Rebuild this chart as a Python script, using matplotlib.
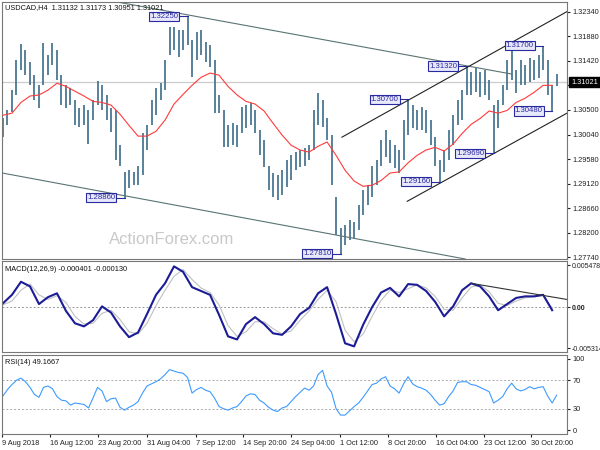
import numpy as np
import matplotlib
matplotlib.use("Agg")
import matplotlib.pyplot as plt

plt.rcParams['font.family'] = ['Liberation Sans', 'DejaVu Sans']

# price bars (every 3 H4 bars), high / low
high = [1.3034, 1.3049, 1.3087, 1.3143, 1.3173, 1.3162, 1.3139, 1.3115, 1.3096, 1.3175,
        1.3152, 1.3175, 1.3162, 1.3115, 1.3096, 1.3091, 1.3068, 1.3053, 1.3059, 1.3049,
        1.3068, 1.3104, 1.3096, 1.3078, 1.3053, 1.3049, 1.2984, 1.2933, 1.2937, 1.2933,
        1.2946, 1.3006, 1.3021, 1.3068, 1.3091, 1.3100, 1.3143, 1.3205, 1.3205, 1.3199,
        1.3199, 1.3225, 1.3180, 1.3195, 1.3199, 1.3177, 1.3171, 1.3143, 1.3078, 1.3049,
        1.3021, 1.3025, 1.3021, 1.3055, 1.3059, 1.3063, 1.3049, 1.3012, 1.2993, 1.2946,
        1.2932, 1.2928, 1.2937, 1.2956, 1.2965, 1.2971, 1.2975, 1.2978, 1.2984, 1.3049,
        1.3081, 1.3068, 1.3034, 1.3003, 1.2887, 1.2829, 1.2834, 1.2844, 1.2840, 1.2872,
        1.2900, 1.2909, 1.2946, 1.2956, 1.2993, 1.3012, 1.2993, 1.2984, 1.2975, 1.3031,
        1.3070, 1.3059, 1.3049, 1.3055, 1.3049, 1.3031, 1.2999, 1.2956, 1.2975, 1.3012,
        1.3040, 1.3068, 1.3087, 1.3132, 1.3121, 1.3128, 1.3121, 1.3124, 1.3106, 1.3059,
        1.3068, 1.3096, 1.3143, 1.3162, 1.3124, 1.3143, 1.3134, 1.3147, 1.3143, 1.3152,
        1.3170, 1.3143, 1.3096, 1.3117]
low = [1.2999, 1.3021, 1.3046, 1.3078, 1.3124, 1.3115, 1.3096, 1.3068, 1.3053, 1.3096,
       1.3115, 1.3134, 1.3106, 1.3059, 1.3053, 1.3059, 1.3021, 1.3018, 1.3021, 1.2986,
       1.3031, 1.3059, 1.3049, 1.3031, 1.3008, 1.2956, 1.2946, 1.2886, 1.2904, 1.2909,
       1.2909, 1.2928, 1.2975, 1.3021, 1.3040, 1.3068, 1.3087, 1.3152, 1.3162, 1.3149,
       1.3162, 1.3171, 1.3111, 1.3143, 1.3152, 1.3139, 1.3130, 1.3044, 1.3044, 1.2980,
       1.2980, 1.2984, 1.2980, 1.3006, 1.3016, 1.3021, 1.3006, 1.2965, 1.2943, 1.2900,
       1.2887, 1.2881, 1.2890, 1.2905, 1.2918, 1.2937, 1.2943, 1.2946, 1.2956, 1.2975,
       1.3021, 1.3018, 1.2993, 1.2909, 1.2816, 1.2781, 1.2797, 1.2806, 1.2810, 1.2825,
       1.2853, 1.2872, 1.2887, 1.2909, 1.2946, 1.2962, 1.2950, 1.2941, 1.2932, 1.2956,
       1.3003, 1.3016, 1.3012, 1.3012, 1.3006, 1.2984, 1.2946, 1.2916, 1.2934, 1.2956,
       1.2984, 1.3021, 1.3031, 1.3078, 1.3078, 1.3083, 1.3074, 1.3078, 1.3068, 1.2969,
       1.3016, 1.3059, 1.3087, 1.3106, 1.3081, 1.3096, 1.3096, 1.3102, 1.3106, 1.3109,
       1.3124, 1.3078, 1.3048, 1.3094]

# moving average, MACD and signal (every 6 H4 bars)
ma = [1.3040, 1.3044, 1.3064, 1.3076, 1.3078, 1.3087, 1.3100, 1.3094, 1.3085, 1.3076,
      1.3066, 1.3064, 1.3059, 1.3042, 1.3021, 1.3001, 1.3001, 1.3010, 1.3031, 1.3061,
      1.3079, 1.3096, 1.3111, 1.3119, 1.3115, 1.3094, 1.3078, 1.3066, 1.3061, 1.3048,
      1.3025, 1.3003, 1.2984, 1.2975, 1.2971, 1.2982, 1.2990, 1.2965, 1.2937, 1.2917,
      1.2907, 1.2909, 1.2918, 1.2932, 1.2934, 1.2951, 1.2965, 1.2975, 1.2980, 1.2973,
      1.2986, 1.3006, 1.3023, 1.3034, 1.3048, 1.3044, 1.3049, 1.3064, 1.3072, 1.3083,
      1.3096, 1.3096]
macd = [0.0005, 0.0016, 0.0033, 0.0027, 0.0004, 0.0013, 0.0018, -0.0005, -0.0021, -0.0025,
        -0.0017, 0.0001, -0.0007, -0.0025, -0.0039, -0.0033, -0.0009, 0.0016, 0.0031, 0.0053,
        0.0046, 0.0026, 0.0021, 0.0016, -0.0010, -0.0038, -0.0042, -0.0022, -0.0013, -0.0022,
        -0.0034, -0.0036, -0.0025, -0.0009, -0.0001, 0.0018, 0.0026, -0.0009, -0.0047, -0.0051,
        -0.0023, 0.0000, 0.0019, 0.0025, 0.0014, 0.0030, 0.0029, 0.0021, 0.0007, -0.0012,
        0.0001, 0.0022, 0.0031, 0.0027, 0.0014, -0.0004, 0.0004, 0.0012, 0.0014, 0.0014,
        0.0016, -0.0004]
signal = [0.0003, 0.0008, 0.0022, 0.0030, 0.0016, 0.0010, 0.0015, 0.0006, -0.0012, -0.0022,
          -0.0021, -0.0008, -0.0004, -0.0016, -0.0032, -0.0035, -0.0021, 0.0002, 0.0022, 0.0040,
          0.0049, 0.0036, 0.0025, 0.0019, 0.0003, -0.0024, -0.0038, -0.0032, -0.0019, -0.0019,
          -0.0028, -0.0035, -0.0031, -0.0017, -0.0005, 0.0010, 0.0022, 0.0007, -0.0030, -0.0045,
          -0.0035, -0.0012, 0.0009, 0.0022, 0.0019, 0.0024, 0.0029, 0.0025, 0.0014, -0.0003,
          -0.0004, 0.0012, 0.0026, 0.0029, 0.0020, 0.0005, 0.0002, 0.0008, 0.0012, 0.0014,
          0.0015, -0.0001]

# RSI(14) (every 3 H4 bars)
rsi = [48, 57, 64, 70, 73, 68, 60, 50, 46, 60, 62, 58, 47, 42, 41, 35, 38, 37, 36, 31,
       45, 60, 55, 40, 44, 45, 32, 28, 32, 35, 40, 52, 62, 65, 68, 72, 78, 85, 83, 81,
       80, 74, 52, 57, 60, 56, 54, 45, 33, 30, 28, 31, 33, 40, 48, 51, 50, 42, 38, 32,
       28, 26, 31, 33, 40, 47, 53, 59, 56, 62, 78, 84, 62, 53, 30, 21, 21, 27, 33, 38,
       46, 55, 64, 66, 72, 75, 62, 58, 52, 65, 75, 65, 61, 59, 56, 50, 42, 35, 37, 47,
       55, 67, 68, 68, 64, 63, 60, 57, 54, 38, 42, 47, 58, 66, 58, 55, 57, 61, 58, 60,
       61, 48, 38, 49]

price_ticks = [1.32340, 1.31880, 1.31420, 1.30960, 1.30500, 1.30040, 1.29580, 1.29120,
               1.28660, 1.28200, 1.27740]
date_labels = ['9 Aug 2018', '16 Aug 12:00', '23 Aug 20:00', '31 Aug 04:00', '7 Sep 12:00',
               '14 Sep 20:00', '24 Sep 04:00', '1 Oct 12:00', '8 Oct 20:00', '16 Oct 04:00',
               '23 Oct 12:00', '30 Oct 20:00']
date_pos = [-0.2, 10.4, 21.1, 32.0, 42.9, 53.3, 64.0, 74.9, 85.6, 96.2, 106.9, 117.3]

swing_text = ['1.32250', '1.28860', '1.27810', '1.29160', '1.29690', '1.30700', '1.31320',
              '1.31700', '1.30480']
swing_bar = [41, 27, 75, 97, 109, 90, 103, 120, 122]
swing_price = [1.3225, 1.2886, 1.2781, 1.2916, 1.2969, 1.3070, 1.3132, 1.3170, 1.3048]

# trend lines: (bar, price) pairs
falling_top = [(26.0, 1.3251), (113.1, 1.3117)]
falling_bot = [(-0.2, 1.2932), (102.7, 1.2771)]
rising_top = [(75.3, 1.2999), (125.3, 1.3234)]
rising_bot = [(89.8, 1.2879), (125.3, 1.3044)]
macd_line = [(104.0, 0.0031), (125.3, 0.0010)]

last_price = 1.31021

x = np.arange(len(high))
x2 = x[::2]

fig = plt.figure(figsize=(6, 4.5), dpi=100)
ax = fig.add_axes([0.0033, 0.4244, 0.9417, 0.5712])
ax2 = fig.add_axes([0.0033, 0.2178, 0.9417, 0.2022])
ax3 = fig.add_axes([0.0033, 0.0356, 0.9417, 0.1755])

fs = 5.3
for a in (ax, ax2, ax3):
    a.set_xlim(-0.22, 125.3)
    a.yaxis.tick_right()
    a.tick_params(axis='y', labelsize=fs, length=2.5, pad=1.5, colors='#222222')
    for s in a.spines.values():
        s.set_color('#777777')
        s.set_linewidth(0.8)
    a.set_xticks([])

# main panel
ax.set_ylim(1.2771, 1.3252)
ax.axhline(last_price, color='#cccccc', lw=0.9, zorder=1)
ax.vlines(x, low, high, color='#4b7893', lw=1.3, zorder=2)
ax.plot(x2, ma, color='#ff3b3b', lw=0.8, zorder=3)
for ln, c in [(falling_top, '#5a7474'), (falling_bot, '#5a7474'),
              (rising_top, '#222222'), (rising_bot, '#222222')]:
    ax.plot([ln[0][0], ln[1][0]], [ln[0][1], ln[1][1]], color=c, lw=0.8, zorder=3)
ax.set_yticks(price_ticks)
# the 1.30960 label sits under the last-price box
ax.set_yticklabels(['' if abs(p - 1.3096) < 1e-6 else '%.5f' % p for p in price_ticks])
gap = 1.6
for t, b, p in zip(swing_text, swing_bar, swing_price):
    ax.plot([b - gap, b], [p, p], color='#2a2aa0', lw=0.8, zorder=4)
    ax.text(b - gap - 0.5, p, t, ha='right', va='center', fontsize=fs + 0.3,
            color='#2a2aa0', zorder=5,
            bbox=dict(boxstyle='square,pad=0.15', fc='#e8e8fb', ec='#2a2aa0', lw=0.8))
ax.text(0.006, 0.993, 'USDCAD,H4  1.31132 1.31173 1.30951 1.31021', transform=ax.transAxes,
        ha='left', va='top', fontsize=fs, color='#111111')
ax.text(0.19, 0.075, 'ActionForex.com', transform=ax.transAxes, ha='left', va='center',
        fontsize=12, color='#c9c9c9', zorder=1)
ax.text(1.007, last_price, '1.31021', transform=ax.get_yaxis_transform(), ha='left',
        va='center', fontsize=fs, color='white', zorder=10, clip_on=False,
        bbox=dict(boxstyle='square,pad=0.25', fc='black', ec='black'))

# MACD panel
ax2.set_ylim(-0.00583, 0.0060)
ax2.axhline(0, color='#999999', lw=0.7, ls=(0, (2, 2)))
ax2.plot(x2, signal, color='#c0c0c0', lw=0.8)
ax2.plot(x2, macd, color='#1c1c96', lw=1.5)
ax2.plot([macd_line[0][0], macd_line[1][0]], [macd_line[0][1], macd_line[1][1]],
         color='#333333', lw=0.8)
ax2.set_yticks([0.005478, 0.0, -0.005314])
ax2.set_yticklabels(['0.005478', '0.00', '-0.005314'])
ax2.tick_params(axis='y', labelsize=5.0, pad=1.0)
ax2.get_yticklabels()[1].set_fontweight('bold')
ax2.text(0.006, 0.95, 'MACD(12,26,9) -0.000401 -0.000130', transform=ax2.transAxes,
         ha='left', va='top', fontsize=fs, color='#111111')

# RSI panel
ax3.set_ylim(-5.6, 105.6)
ax3.axhline(70, color='#aaaaaa', lw=0.7, ls=(0, (2, 2)))
ax3.axhline(30, color='#aaaaaa', lw=0.7, ls=(0, (2, 2)))
ax3.plot(x, rsi, color='#3d9bff', lw=0.8)
ax3.set_yticks([100, 70, 30, 0])
ax3.text(0.006, 0.95, 'RSI(14) 49.1667', transform=ax3.transAxes,
         ha='left', va='top', fontsize=fs, color='#111111')
ax3.set_xticks(date_pos)
ax3.set_xticklabels(date_labels, ha='left')
ax3.tick_params(axis='x', labelsize=fs, length=2.5, pad=1.5, colors='#222222')

fig.savefig('out.png', dpi=100, facecolor='white')
